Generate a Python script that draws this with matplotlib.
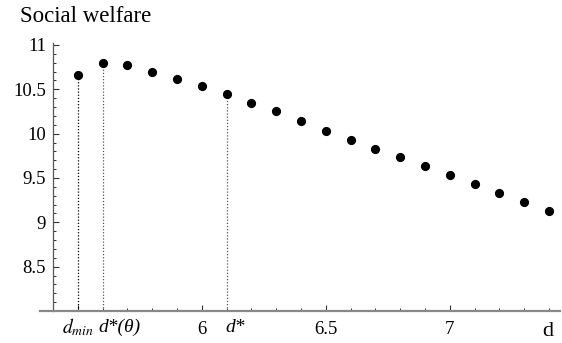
import matplotlib
matplotlib.use("Agg")
import matplotlib.pyplot as plt
from matplotlib.ticker import MultipleLocator
import matplotlib.transforms as mtransforms

# Social welfare against d
d_values = [5.5, 5.6, 5.7, 5.8, 5.9, 6.0, 6.1, 6.2, 6.3, 6.4,
            6.5, 6.6, 6.7, 6.8, 6.9, 7.0, 7.1, 7.2, 7.3, 7.4]
welfare = [10.66, 10.80, 10.77, 10.70, 10.62, 10.54, 10.45, 10.35, 10.25, 10.14,
           10.03, 9.93, 9.83, 9.74, 9.63, 9.53, 9.43, 9.33, 9.23, 9.13]

# marked points on the d axis
marked_d = [5.5, 5.6, 6.1]
marked_labels = [r'$d_{min}$', 'd*(θ)', 'd*']
marked_colors = ['black', '#555555', '#555555']

x_ticks = [5.5, 6, 6.5, 7]
x_tick_labels = ['', '6', '6.5', '7']
y_ticks = [8.5, 9, 9.5, 10, 10.5, 11]
y_tick_labels = ['8.5', '9', '9.5', '10', '10.5', '11']

plt.rcParams['font.family'] = ['Liberation Serif', 'DejaVu Serif']
plt.rcParams['mathtext.fontset'] = 'stix'

fig = plt.figure(figsize=(5.62, 3.43), dpi=100)
ax = fig.add_axes([40 / 562, 1 - 311 / 343, 520 / 562, 268 / 343])

ax.plot(d_values, welfare, 'o', color='black', markersize=5.6, zorder=3)

# dotted drop lines
lookup = dict(zip(d_values, welfare))
for x, c in zip(marked_d, marked_colors):
    ax.vlines(x, 8.0, lookup[x], colors=c, linestyles=(0, (1, 1.5)), linewidth=0.9)

ax.set_xlim(5.3476, 7.444)
ax.set_ylim(8.0, 11.022)

for s in ['top', 'right']:
    ax.spines[s].set_visible(False)
ax.spines['left'].set_position(('data', 5.4))
ax.spines['left'].set_color('#555555')
ax.spines['left'].set_linewidth(0.9)
ax.spines['bottom'].set_color('#888888')
ax.spines['bottom'].set_linewidth(1.6)

ax.set_xticks(x_ticks)
ax.set_xticklabels(x_tick_labels)
ax.set_yticks(y_ticks)
ax.set_yticklabels(y_tick_labels)
ax.xaxis.set_minor_locator(MultipleLocator(0.1))
ax.yaxis.set_minor_locator(MultipleLocator(0.1))
ax.tick_params(axis='both', which='major', direction='in', length=4, width=0.8,
               color='#333333', labelsize=13.5)
ax.tick_params(axis='both', which='minor', direction='in', length=2.2, width=0.7,
               color='#333333')
ax.tick_params(axis='x', which='major', pad=7)
ax.tick_params(axis='y', which='major', pad=5)

# labels for the marked points below the axis
trans = mtransforms.blended_transform_factory(ax.transData, fig.transFigure)
label_x = [5.5, 5.585, 6.094]
label_ha = ['center', 'left', 'left']
for x, lab, ha in zip(label_x, marked_labels, label_ha):
    ax.text(x, 1 - 327 / 343, lab, transform=trans, ha=ha, va='center',
            fontsize=14, style='italic')

fig.text(20 / 562, 1 - 17 / 343, 'Social welfare', ha='left', va='center', fontsize=16.5)
fig.text(548 / 562, 1 - 331 / 343, 'd', ha='center', va='center', fontsize=16)

fig.savefig('out.png', dpi=100)
